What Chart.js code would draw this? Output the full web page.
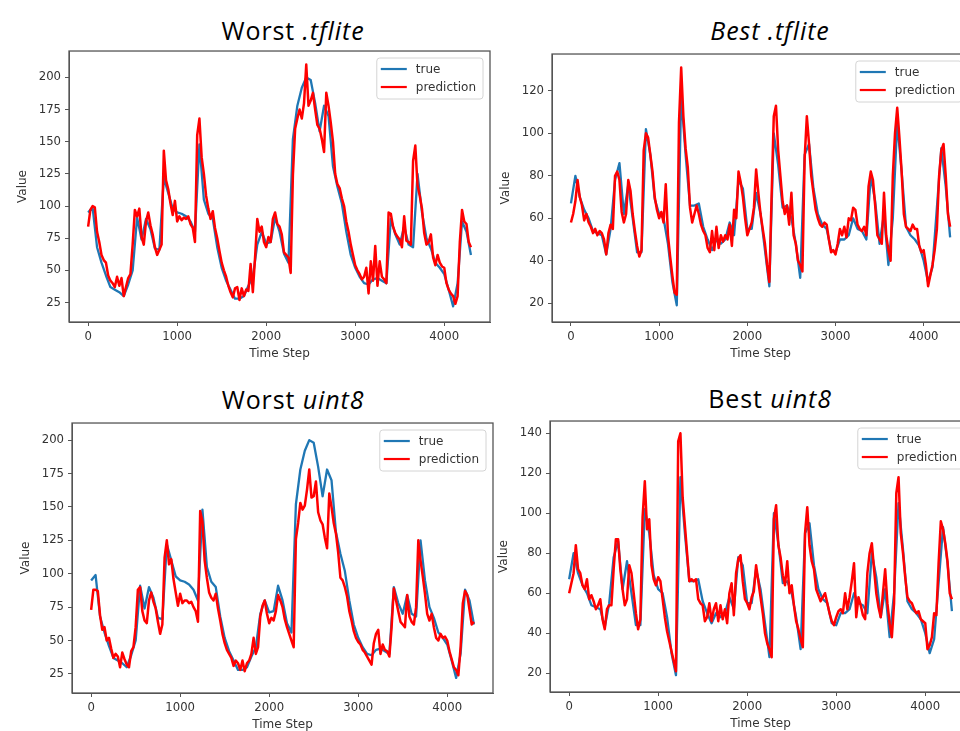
<!DOCTYPE html>
<html>
<head>
<meta charset="utf-8">
<script src="https://cdn.jsdelivr.net/npm/chart.js@4"></script>
<style>
html,body{margin:0;padding:0;background:#fff;overflow:hidden;width:960px;height:731px;}
#wrap{position:relative;width:960px;height:731px;overflow:hidden;background:#fff;}
#wrap canvas{position:absolute;}
.ttl{position:absolute;font-family:"Open Sans",Lato,sans-serif;font-size:25px;line-height:30px;letter-spacing:0.9px;color:#000;white-space:nowrap;transform:translateX(-50%);}
.ttl i{font-style:italic;}
</style>
</head>
<body>
<div id="wrap"></div>
<script>
// ---------- data ----------
const TRUE_STEP = 50;   // time-step spacing of the "true" samples
const PRED_STEP = 25;   // time-step spacing of the "prediction" samples
const seriesLabels = ['true', 'prediction'];
const xTickValues = [0, 1000, 2000, 3000, 4000];
const worstYTicks = [25, 50, 75, 100, 125, 150, 175, 200];
const bestTfliteYTicks = [20, 40, 60, 80, 100, 120];
const bestUintYTicks = [20, 40, 60, 80, 100, 120, 140];

const worstTrue = [
  95, 99, 68, 56, 46, 37, 35, 33,
  30, 39, 50, 91, 74, 90, 82, 67,
  66, 122, 110, 98, 95, 94, 92, 88,
  80, 148, 105, 94, 90, 68, 52, 42,
  35, 28, 28, 30, 38, 45, 70, 80,
  71, 72, 91, 80, 63, 56, 152, 178,
  192, 200, 198, 180, 158, 178, 170, 131,
  115, 102, 80, 62, 52, 45, 40, 39,
  43, 44, 42, 40, 90, 78, 70, 84,
  70, 68, 125, 95, 75, 67, 56, 52,
  47, 35, 22, 40, 88, 80, 62
];
const bestTrue = [
  67, 80, 70, 64, 60, 54, 53, 52,
  43, 55, 78, 86, 62, 76, 60, 44,
  44, 102, 90, 69, 62, 60, 48, 30,
  19, 118, 90, 66, 66, 67, 56, 50,
  45, 50, 48, 50, 58, 52, 78, 74,
  55, 55, 72, 62, 45, 28, 100, 85,
  65, 66, 60, 48, 32, 90, 95, 74,
  62, 57, 55, 45, 44, 50, 50, 52,
  60, 55, 54, 50, 80, 68, 48, 62,
  38, 60, 105, 82, 56, 52, 50, 47,
  40, 30, 37, 65, 93, 75, 51
];
const worstTflitePred = [
  84, 97, 100, 99, 80, 72, 62, 58,
  56, 46, 42, 40, 37, 45, 38, 44,
  30, 37, 44, 47, 70, 97, 92, 98,
  76, 70, 88, 95, 85, 78, 68, 62,
  66, 70, 143, 120, 113, 102, 93, 104,
  88, 92, 89, 91, 90, 92, 86, 83,
  72, 155, 168, 138, 125, 108, 98, 90,
  96, 83, 75, 65, 56, 50, 45, 38,
  33, 29, 36, 37, 27, 36, 30, 35,
  34, 55, 33, 60, 90, 80, 84, 72,
  68, 76, 72, 90, 95, 86, 84, 78,
  64, 62, 60, 48, 124, 160, 168, 175,
  168, 180, 210, 178, 182, 188, 175, 163,
  160, 152, 142, 188, 178, 165, 150, 125,
  117, 114, 106, 100, 88, 80, 70, 62,
  54, 50, 47, 43, 45, 52, 32, 57,
  42, 69, 38, 57, 45, 43, 40, 95,
  94, 84, 79, 76, 74, 68, 92, 73,
  72, 70, 135, 147, 116, 108, 98, 79,
  70, 72, 78, 60, 54, 62, 56, 53,
  52, 40, 35, 32, 30, 24, 30, 72,
  97, 88, 86, 72, 68
];
const bestTflitePred = [
  58, 62, 68, 78, 70, 66, 59, 62,
  58, 56, 53, 55, 52, 54, 53, 50,
  43, 53, 57, 55, 80, 82, 78, 63,
  58, 62, 78, 73, 62, 54, 47, 42,
  45, 92, 100, 98, 90, 82, 70, 64,
  60, 63, 58, 76, 52, 42, 33, 25,
  24, 105, 131, 108, 93, 84, 65, 58,
  62, 66, 62, 57, 54, 52, 46, 44,
  54, 45, 56, 46, 52, 49, 52, 50,
  57, 47, 64, 60, 82, 77, 70, 60,
  52, 55, 58, 65, 83, 72, 62, 55,
  48, 38, 30, 70, 108, 113, 92, 80,
  68, 62, 66, 57, 72, 52, 48, 40,
  38, 35, 88, 108, 95, 80, 72, 64,
  60, 57, 56, 58, 57, 50, 44, 45,
  43, 48, 55, 52, 56, 51, 60, 59,
  65, 64, 57, 55, 54, 56, 52, 75,
  82, 78, 66, 52, 50, 48, 72, 52,
  45, 40, 80, 100, 112, 98, 82, 62,
  56, 55, 54, 57, 55, 55, 47, 44,
  45, 38, 28, 33, 38, 45, 55, 80,
  92, 95, 80, 62, 56
];
const worstUintPred = [
  73, 88, 88, 87, 69, 58, 60, 50,
  52, 44, 37, 40, 38, 30, 41, 36,
  32, 30, 42, 45, 60, 88, 90, 72,
  65, 63, 80, 86, 79, 74, 64, 55,
  62, 112, 125, 107, 111, 96, 86, 76,
  85, 78, 80, 80, 78, 79, 75, 72,
  64, 147, 139, 110, 97, 86, 82, 80,
  85, 74, 65, 55, 48, 43, 40, 37,
  31, 35, 33, 28, 35, 27, 33, 35,
  40, 52, 40, 45, 68, 76, 80, 70,
  63, 67, 65, 72, 84, 80, 75, 66,
  60, 55, 50, 45, 126, 138, 153, 148,
  151, 163, 178, 157, 158, 169, 146, 140,
  137, 127, 119, 160, 150, 138, 130, 116,
  97, 95, 90, 83, 72, 65, 57, 52,
  49, 47, 43, 41, 38, 35, 32, 48,
  55, 58, 40, 47, 43, 42, 38, 60,
  89, 80, 72, 64, 62, 60, 84, 68,
  64, 62, 75, 125, 110, 98, 85, 70,
  65, 70, 60, 52, 50, 55, 52, 53,
  50, 42, 36, 30, 28, 24, 45, 78,
  87, 84, 73, 62, 64
];
const bestUintPred = [
  60, 65, 70, 84, 72, 70, 64, 62,
  67, 57, 59, 56, 52, 54, 57, 47,
  42, 52, 54, 54, 72, 87, 87, 72,
  62, 54, 57, 74, 70, 60, 50, 42,
  47, 98, 116, 92, 97, 74, 67, 64,
  68, 66, 57, 48, 41, 36, 31, 26,
  21, 136, 140, 108, 94, 80, 66, 67,
  66, 67, 57, 55, 54, 46, 48, 55,
  46, 52, 55, 46, 54, 47, 52, 45,
  60, 65, 49, 70, 77, 79, 66, 57,
  55, 52, 58, 61, 74, 66, 58, 50,
  40, 35, 32, 28, 97, 104, 84, 78,
  69, 64, 76, 60, 64, 54, 46, 42,
  37, 33, 90, 103, 84, 76, 72, 62,
  59, 56, 58, 60, 55, 50, 46, 44,
  48, 51, 52, 50, 60, 52, 58, 66,
  75, 48, 58, 54, 49, 47, 70, 80,
  85, 72, 60, 53, 48, 60, 72, 55,
  45, 38, 55, 110, 118, 90, 80, 68,
  58, 56, 55, 52, 50, 51, 47, 46,
  45, 32, 34, 38, 50, 49, 75, 96,
  92, 85, 76, 60, 57
];

// ---------- layout / styles ----------
const BLUE = '#1f77b4', RED = '#ff0000', FRAME = '#555555', TXT = '#333333';
const X_MIN = -215, X_MAX = 4514;
const Y_AXIS_W = 69, X_AXIS_H = 48, PAD_TOP = 8, PAD_RIGHT = 10;

const panels = [
  {title: ['Worst ', '.tflite'], tx: 293, ty: 14.5, frame: {l: 69, t: 48, r: 490, b: 322},
   yMin: 9.85, yMax: 220.5, yTicks: worstYTicks, trueVals: worstTrue, predVals: worstTflitePred},
  {title: ['', 'Best .tflite'], tx: 770, ty: 14.5, frame: {l: 552, t: 51, r: 969, b: 322.3},
   yMin: 11.16, yMax: 137.35, yTicks: bestTfliteYTicks, trueVals: bestTrue, predVals: bestTflitePred},
  {title: ['Worst ', 'uint8'], tx: 293, ty: 384, frame: {l: 71.5, t: 420, r: 492, b: 693.3},
   yMin: 10.73, yMax: 212.8, yTicks: worstYTicks, trueVals: worstTrue, predVals: worstUintPred},
  {title: ['Best ', 'uint8'], tx: 770, ty: 383, frame: {l: 550, t: 418.3, r: 971, b: 692.3},
   yMin: 10.6, yMax: 146.1, yTicks: bestUintYTicks, trueVals: bestTrue, predVals: bestUintPred}
];

const framePlugin = {
  id: 'mplFrame',
  afterDraw(chart) {
    const {ctx, chartArea: a} = chart;
    ctx.save();
    ctx.strokeStyle = FRAME;
    ctx.lineWidth = 1.3;
    ctx.strokeRect(a.left, a.top, a.right - a.left, a.bottom - a.top);
    ctx.restore();
  }
};

const boxLegendPlugin = {
  id: 'boxLegend',
  afterDraw(chart) {
    const {ctx, chartArea: a} = chart;
    const ds = chart.data.datasets;
    ctx.save();
    ctx.font = '12px "DejaVu Sans"';
    let tw = 0;
    ds.forEach(d => { tw = Math.max(tw, ctx.measureText(d.label).width); });
    const w = 39 + tw + 7, h = 41;
    const x = a.right - 7 - w, y = a.top + 7;
    ctx.beginPath();
    ctx.roundRect(x, y, w, h, 3);
    ctx.fillStyle = 'rgba(255,255,255,0.85)';
    ctx.fill();
    ctx.strokeStyle = '#d4d4d4';
    ctx.lineWidth = 1;
    ctx.stroke();
    ds.forEach((d, i) => {
      const ry = y + 11 + i * 18;
      ctx.beginPath();
      ctx.moveTo(x + 4, ry);
      ctx.lineTo(x + 30, ry);
      ctx.strokeStyle = d.borderColor;
      ctx.lineWidth = 2.2;
      ctx.stroke();
      ctx.fillStyle = TXT;
      ctx.textBaseline = 'middle';
      ctx.textAlign = 'left';
      ctx.fillText(d.label, x + 39, ry + 1);
    });
    ctx.restore();
  }
};

const wrap = document.getElementById('wrap');
const tickFont = {family: 'DejaVu Sans', size: 11.7};
const titleFont = {family: 'DejaVu Sans', size: 12};

panels.forEach(p => {
  const f = p.frame;
  const t = document.createElement('div');
  t.className = 'ttl';
  t.style.left = p.tx + 'px';
  t.style.top = p.ty + 'px';
  t.appendChild(document.createTextNode(p.title[0]));
  const it = document.createElement('i');
  it.textContent = p.title[1];
  t.appendChild(it);
  wrap.appendChild(t);

  const cv = document.createElement('canvas');
  const cl = f.l - Y_AXIS_W, ct = f.t - PAD_TOP;
  const cw = Math.round(f.r - cl + PAD_RIGHT), ch = Math.round(f.b + X_AXIS_H - ct);
  cv.width = cw; cv.height = ch;
  cv.style.left = cl + 'px'; cv.style.top = ct + 'px';
  cv.style.width = cw + 'px'; cv.style.height = ch + 'px';
  wrap.appendChild(cv);

  new Chart(cv, {
    type: 'line',
    data: {
      datasets: [
        {label: seriesLabels[0], data: p.trueVals.map((v, i) => ({x: i * TRUE_STEP, y: v})),
         borderColor: BLUE, borderWidth: 2.3, pointRadius: 0, tension: 0, order: 2, borderJoinStyle: 'round'},
        {label: seriesLabels[1], data: p.predVals.map((v, i) => ({x: i * PRED_STEP, y: v})),
         borderColor: RED, borderWidth: 2.5, pointRadius: 0, tension: 0, order: 1, borderJoinStyle: 'round'}
      ]
    },
    options: {
      responsive: false, animation: false, devicePixelRatio: 1,
      layout: {padding: {left: 0, top: PAD_TOP, right: PAD_RIGHT, bottom: 0}},
      plugins: {legend: {display: false}, tooltip: {enabled: false}},
      scales: {
        x: {
          type: 'linear', min: X_MIN, max: X_MAX,
          afterBuildTicks: s => { s.ticks = xTickValues.map(v => ({value: v})); },
          afterFit: s => { s.height = X_AXIS_H; },
          grid: {drawOnChartArea: false, drawTicks: true, tickLength: 4, color: FRAME, lineWidth: 1},
          border: {display: true, color: FRAME, width: 1},
          ticks: {font: tickFont, color: TXT, padding: 4, maxRotation: 0, autoSkip: false, callback: v => String(v)},
          title: {display: true, text: 'Time Step', font: titleFont, color: TXT, padding: {top: 0, bottom: 8.8}}
        },
        y: {
          type: 'linear', min: p.yMin, max: p.yMax,
          afterBuildTicks: s => { s.ticks = p.yTicks.map(v => ({value: v})); },
          afterFit: s => { s.width = Y_AXIS_W; },
          grid: {drawOnChartArea: false, drawTicks: true, tickLength: 4, color: FRAME, lineWidth: 1},
          border: {display: true, color: FRAME, width: 1},
          ticks: {font: tickFont, color: TXT, padding: 4, autoSkip: false, callback: v => String(v)},
          title: {display: true, text: 'Value', font: titleFont, color: TXT, padding: {top: 15.8, bottom: 0}}
        }
      }
    },
    plugins: [framePlugin, boxLegendPlugin]
  });
});
</script>
</body>
</html>
